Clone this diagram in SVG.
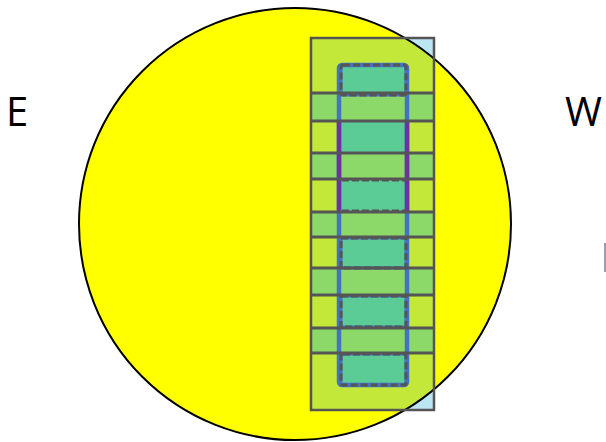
<svg xmlns="http://www.w3.org/2000/svg" width="606" height="442" viewBox="0 0 606 442">
<style>
.lbl{font-family:"Open Sans","Liberation Sans",sans-serif;font-size:40px;fill:#000}
.band{fill:#8cd96a;stroke:none}
.bline{fill:none;stroke:#555;stroke-width:3}
.cell{fill:#5bcc96;stroke:none}
.dash{fill:none;stroke:#4472c4;stroke-width:3}
.dash2{fill:none;stroke:#555;stroke-width:3;stroke-dasharray:7 3}
</style>
<defs>
<clipPath id="cc"><circle cx="295" cy="224" r="216"/></clipPath>
</defs>
<rect width="606" height="442" fill="#fff"/>
<g id="sun">
<circle cx="295" cy="224" r="216" fill="#ffff00" stroke="none"/>
</g>
<g id="frame">
<rect x="311" y="38" width="123" height="372" fill="#bde6f5"/>
<rect x="311" y="38" width="123" height="372" fill="#c3e83a" clip-path="url(#cc)"/>
<circle cx="295" cy="224" r="216" fill="none" stroke="#000" stroke-width="2"/>
</g>
<g id="bands">
<rect class="band" x="311" y="93" width="123" height="28"/>
<rect class="band" x="311" y="153" width="123" height="26"/>
<rect class="band" x="311" y="212" width="123" height="25"/>
<rect class="band" x="311" y="268" width="123" height="27"/>
<rect class="band" x="311" y="328" width="123" height="25"/>
</g>
<g id="cells">
<rect class="cell" x="341" y="66" width="64" height="28"/>
<rect class="cell" x="341" y="122" width="64" height="30"/>
<rect class="cell" x="341" y="180" width="64" height="31"/>
<rect class="cell" x="341" y="238" width="64" height="29"/>
<rect class="cell" x="341" y="296" width="64" height="31"/>
<rect class="cell" x="341" y="354" width="64" height="30"/>
</g>
<g id="column">
<rect x="339" y="65" width="68" height="320" rx="3" fill="none" stroke="#4472c4" stroke-width="4.5"/>
<line x1="339" y1="121" x2="339" y2="212" stroke="#7030a0" stroke-width="4.5"/>
<line x1="407" y1="121" x2="407" y2="212" stroke="#7030a0" stroke-width="4.5"/>
</g>
<g id="dashed">
<rect class="dash" x="341" y="65" width="65" height="30" rx="2"/>
<rect class="dash2" x="341" y="65" width="65" height="30" rx="2"/>
<line class="dash2" x1="342" y1="180" x2="405" y2="180"/>
<line class="dash2" x1="342" y1="211" x2="405" y2="211"/>
<rect class="dash" x="341" y="238" width="65" height="30"/>
<rect class="dash2" x="341" y="238" width="65" height="30"/>
<rect class="dash" x="341" y="296" width="65" height="31"/>
<rect class="dash2" x="341" y="296" width="65" height="31"/>
<rect class="dash" x="341" y="354" width="65" height="31" rx="2"/>
<rect class="dash2" x="341" y="354" width="65" height="31" rx="2"/>
</g>
<g id="lines">
<line class="bline" x1="311" y1="93" x2="434" y2="93"/>
<line class="bline" x1="311" y1="121" x2="434" y2="121"/>
<line class="bline" x1="311" y1="153" x2="434" y2="153"/>
<line class="bline" x1="311" y1="179" x2="434" y2="179"/>
<line class="bline" x1="311" y1="212" x2="434" y2="212"/>
<line class="bline" x1="311" y1="237" x2="434" y2="237"/>
<line class="bline" x1="311" y1="268" x2="434" y2="268"/>
<line class="bline" x1="311" y1="295" x2="434" y2="295"/>
<line class="bline" x1="311" y1="328" x2="434" y2="328"/>
<line class="bline" x1="311" y1="353" x2="434" y2="353"/>
<rect x="311" y="38" width="123" height="372" fill="none" stroke="#555" stroke-width="2.5"/>
</g>
<g id="labels">
<text class="lbl" x="6" y="126">E</text>
<text class="lbl" x="565" y="126">W</text>
<line x1="605" y1="243" x2="605" y2="272" stroke="#7080a0" stroke-width="1.5"/>
</g>
</svg>
